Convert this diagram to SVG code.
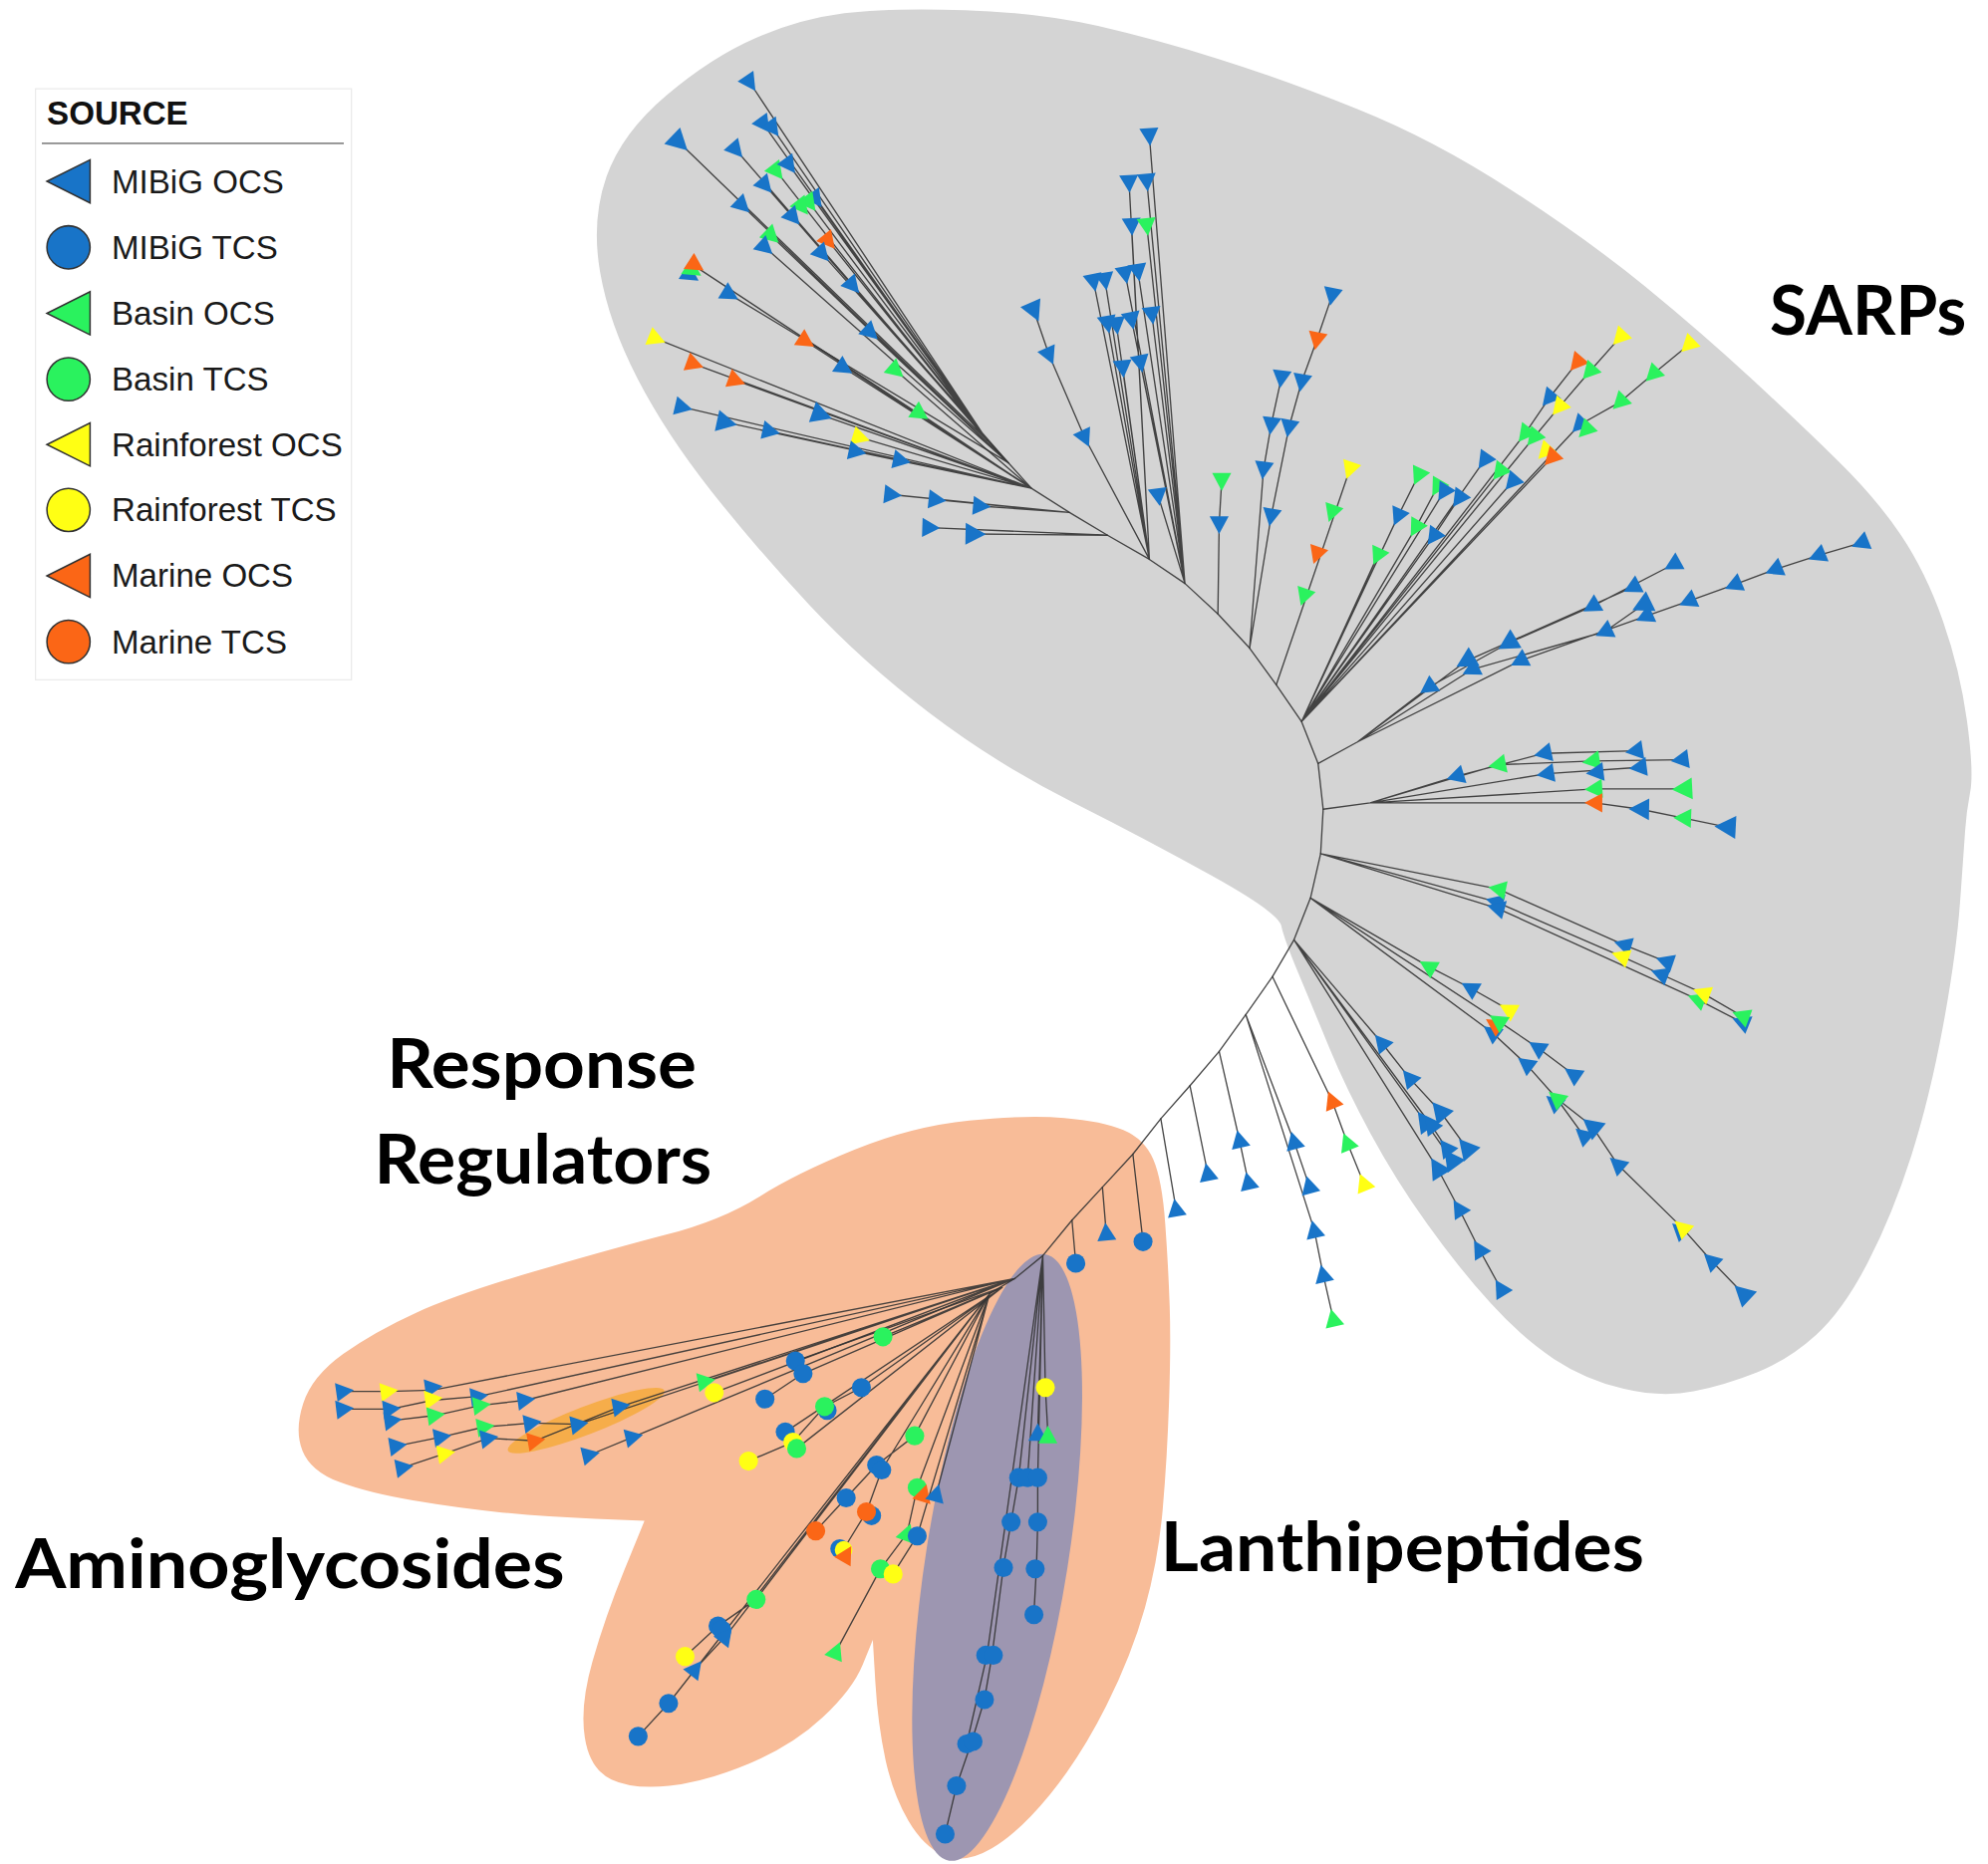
<svg xmlns="http://www.w3.org/2000/svg" xmlns:xlink="http://www.w3.org/1999/xlink" width="1995" height="1871" viewBox="0 0 1995 1871">
<style>
.b{fill:#1874c8}.g{fill:#2af25e}.y{fill:#ffff14}.o{fill:#fb6616}
.ln{fill:none;stroke:#333;stroke-width:1.05;stroke-linejoin:round;stroke-linecap:round;stroke-opacity:.9}
.ls{stroke:#333;stroke-width:1.2}
.lt{font-family:"Liberation Sans",Arial,sans-serif;font-size:26px;fill:#1a1a1a}
.lh{font-family:"Liberation Sans",Arial,sans-serif;font-size:26px;font-weight:700;fill:#111}
.big{font-family:Lato,"Open Sans",sans-serif;font-size:54px;font-weight:700;fill:#000}
</style>
<defs>
<path id="T" d="M-8,0L6,-7.5L6,7.5Z"/>
</defs>
<rect width="1995" height="1871" fill="#fff"/>
<g transform="scale(1.2731)">
<g id="region-sarps">
<path fill="#d4d4d4" d="M665.5,10.5 Q701,6 760.5,8 Q820,10 865.5,20.5 Q911,31 960.5,46.5 Q1010,62 1070,86 Q1130,110 1191.5,150 Q1253,190 1297,226 Q1341,262 1380.5,298.5 Q1420,335 1449.5,364 Q1479,393 1498.5,422 Q1518,451 1531.5,489.5 Q1545,528 1550.5,568.5 Q1556,609 1553,624.5 Q1550,640 1549,655 Q1548,670 1545,711.5 Q1542,753 1531.5,809.5 Q1521,866 1506.5,911.5 Q1492,957 1472.5,995 Q1453,1033 1431.5,1052.5 Q1410,1072 1385,1082 Q1360,1092 1335,1097 Q1310,1102 1280,1095 Q1250,1088 1225,1071.5 Q1200,1055 1175,1027.5 Q1150,1000 1125,965 Q1100,930 1080.5,894 Q1061,858 1048,826.5 Q1035,795 1023.5,767.5 Q1012,740 1010,730 Q1008,720 957,691.5 Q906,663 845.5,632.5 Q785,602 732.5,562 Q680,522 638,477 Q596,432 560.5,387 Q525,342 502.5,298.5 Q480,255 473,214.5 Q466,174 478,139.5 Q490,105 525.5,75 Q561,45 595.5,30 Q630,15 665.5,10.5 Z"/>
</g>
<g id="region-response-regulators">
<path fill="#f8bc98" d="M238.5,1144 Q232,1128 239,1106.5 Q246,1085 270.5,1067.5 Q295,1050 328,1035 Q361,1020 421,1002.5 Q481,985 525,973.5 Q569,962 598.5,943.5 Q628,925 673.5,906.5 Q719,888 764,883.5 Q809,879 839,881.5 Q869,884 885.5,891 Q902,898 909,914 Q916,930 918.5,965 Q921,1000 922,1030 Q923,1060 921.5,1105 Q920,1150 916.5,1190 Q913,1230 902.5,1267.5 Q892,1305 872,1345 Q852,1385 827.5,1415 Q803,1445 781.5,1457.5 Q760,1470 744,1463 Q728,1456 716,1435.5 Q704,1415 698,1387.5 Q692,1360 690,1326.5 Q688,1293 688,1293 L680,1312.5 Q672,1332 648.5,1354 Q625,1376 590.5,1390.5 Q556,1405 527.5,1408 Q499,1411 482,1403 Q465,1395 461,1370 Q457,1345 467,1310 Q477,1275 492.5,1237 Q508,1199 508,1199 L469,1197.5 Q430,1196 395.5,1192.5 Q361,1189 325.5,1183 Q290,1177 267.5,1168.5 Q245,1160 238.5,1144 Z"/>
</g>
<g id="region-lanthipeptides">
<ellipse cx="786" cy="1228" rx="56" ry="242" transform="rotate(9 786 1228)" fill="#9d96b1"/>
</g>
<g id="region-highlight">
<ellipse cx="462" cy="1120" rx="66" ry="11" transform="rotate(-21 462 1120)" fill="#f6ad4a"/>
</g>
<g id="connectors" class="ln">
<polyline points="778,347 795,365 813,385 843,404 873,422 906,441 934,460 960,484 985,511 1006,540 1026,569 1039,602 1043,638 1041,673 1033,708 1020,741 1003,770 982,800 961,829 938,856 915,882 893,910 869,936 845,962 822,990 800,1008 780,1020"/>
<path d="M591,65L778,347M602,98L778,347M609,101L778,347M535,112L778,347M580,118L778,347M612,135L778,347M622,130L778,347M603,146L778,347M638,160L778,347M643,157L778,347M585,162L795,365M608,186L795,365M603,195L795,365M653,190L778,347M625,171L778,347M648,200L795,365M672,225L795,365M575,232L795,365M686,262L795,365"/>
<path d="M548,210L813,385M517,267L813,385M547,287L813,385M580,300L813,385M635,269L813,385M665,290L813,385M706,292L813,385M725,326L813,385M538,321L813,385M572,333L813,385M607,340L813,385M647,327L813,385M678,345L813,385M675,356L813,385M710,363L813,385M703,390L843,404M738,394L843,404M773,399L843,404M733,416L873,422M768,421L873,422"/>
<path d="M815,245L827,280L855,345L906,441M890,144L906,441M892,178L906,441M862,222L906,441M871,221L906,441M873,255L906,441M880,256L906,441M885,290L906,441M906,107L934,460M904,143L934,460M904,178L934,460M887,216L934,460M897,214L934,460M892,252L934,460M908,248L934,460M899,286L934,460M913,391L934,460"/>
<path d="M960,484L961,413L963,379M985,511L996,370L1002,335L1010,298M985,511L1002,407L1016,337L1026,301L1038,268L1050,233M1006,540L1064,370"/>
<path d="M1026,569L1086,438M1026,569L1102,407L1118,375M1026,569L1116,416L1133,384M1026,569L1130,423L1150,393M1026,569L1138,388M1026,569L1170,363M1026,569L1182,372M1026,569L1192,380M1026,569L1202,342L1221,314L1243,286M1026,569L1209,345L1229,321L1253,293L1277,266M1026,569L1223,361M1026,569L1245,335L1277,317L1303,295L1331,272"/>
<path d="M1039,602L1070,585L1126,542L1189,507L1255,478L1319,445M1070,585L1156,521L1287,463M1070,585L1198,521L1297,486L1331,474L1367,461L1399,449L1433,438L1467,428M1070,585L1160,528L1265,498L1295,477"/>
<path d="M1043,638L1080,633L1148,612L1217,594L1289,592M1080,633L1181,603L1255,600L1325,599M1080,633L1219,610L1292,605M1080,633L1257,622L1327,622M1080,633L1257,633L1293,638L1327,645L1361,652"/>
<path d="M1041,673L1181,701L1280,745L1313,758M1041,673L1179,711L1278,754L1309,768L1342,783L1373,801M1041,673L1180,716L1338,788L1373,806"/>
<path d="M1033,708L1126,762L1159,779L1189,796M1033,708L1181,805L1212,826L1240,847M1033,708L1176,814L1203,839L1227,866L1255,888L1275,918L1326,968L1349,994L1374,1020M1227,866L1248,895"/>
<path d="M1020,741L1089,822L1111,850L1135,876L1156,905M1020,741L1123,884L1144,914M1020,741L1128,887L1140,905M1020,741L1133,921L1150,953L1166,985L1183,1016"/>
<path d="M1003,770L1050,868L1062,901L1075,933M982,800L1020,900L1032,935M982,800L1036,970L1043,1005L1051,1040M961,829L977,899L984,932M938,856L952,925M915,882L927,953M893,910L901,979M869,936L872,972M845,962L848,996"/>
<path d="M822,990L824,1094L826,1130M822,990L818,1130M822,990L818,1165L818,1200L817,1236L815,1272M822,990L810,1165M822,990L803,1165L797,1200L791,1235L782,1305L776,1340L766,1373L754,1408L745,1446M822,990L778,1305L762,1375"/>
<path d="M800,1008L341,1096L306,1097L271,1097M800,1008L377,1101L341,1104L308,1111L271,1111M800,1008L414,1104L379,1108L343,1116L309,1120M800,1008L456,1123L419,1122L382,1125L348,1133L313,1140M800,1008L499,1133L465,1147M800,1008L489,1109L422,1136L385,1134L351,1146L318,1157M800,1008L556,1089M800,1008L563,1098"/>
<path d="M790,1015L627,1073M790,1015L633,1083L603,1103M790,1015L696,1054M790,1015L679,1094L650,1109L625,1137L590,1152M790,1015L619,1129M790,1015L628,1142"/>
<path d="M780,1020L721,1132L691,1155L667,1181L643,1207M780,1020L695,1159L683,1192L664,1223M780,1020L738,1178M780,1020L723,1173L715,1209L694,1237L659,1302M780,1020L723,1211L704,1241M780,1020L596,1261L566,1282L540,1306M780,1020L572,1290L548,1316M780,1020L527,1343L503,1369"/>
</g>
<g id="leaves-sarps">
<use href="#T" class="b" transform="translate(591,65) rotate(-124)"/>
<use href="#T" class="b" transform="translate(602,98) rotate(-126)"/>
<use href="#T" class="b" transform="translate(609,101) rotate(-126)"/>
<use href="#T" class="b" transform="translate(535,112) rotate(-136) scale(1.2)"/>
<use href="#T" class="b" transform="translate(580,118) rotate(-131)"/>
<use href="#T" class="g" transform="translate(612,135) rotate(-128)"/>
<use href="#T" class="b" transform="translate(622,130) rotate(-126)"/>
<use href="#T" class="b" transform="translate(603,146) rotate(-131)"/>
<use href="#T" class="b" transform="translate(643,157) rotate(-126)"/>
<use href="#T" class="g" transform="translate(638,160) rotate(-127)"/>
<use href="#T" class="g" transform="translate(632,163) rotate(-128)"/>
<use href="#T" class="b" transform="translate(585,162) rotate(-136)"/>
<use href="#T" class="g" transform="translate(608,186) rotate(-136)"/>
<use href="#T" class="b" transform="translate(603,195) rotate(-138)"/>
<use href="#T" class="o" transform="translate(653,190) rotate(-129)"/>
<use href="#T" class="b" transform="translate(625,171) rotate(-131)"/>
<use href="#T" class="b" transform="translate(648,200) rotate(-132)"/>
<use href="#T" class="b" transform="translate(672,225) rotate(-131)"/>
<use href="#T" class="b" transform="translate(575,232) rotate(-149)"/>
<use href="#T" class="b" transform="translate(686,262) rotate(-137)"/>
<use href="#T" class="b" transform="translate(544,217) rotate(-147)"/>
<use href="#T" class="g" transform="translate(546,213) rotate(-147)"/>
<use href="#T" class="o" transform="translate(548,209) rotate(-147)"/>
<use href="#T" class="y" transform="translate(517,267) rotate(-158)"/>
<use href="#T" class="o" transform="translate(547,287) rotate(-160)"/>
<use href="#T" class="o" transform="translate(580,300) rotate(-160)"/>
<use href="#T" class="o" transform="translate(635,269) rotate(-147)"/>
<use href="#T" class="b" transform="translate(665,290) rotate(-147)"/>
<use href="#T" class="g" transform="translate(706,292) rotate(-139)"/>
<use href="#T" class="g" transform="translate(725,326) rotate(-146)"/>
<use href="#T" class="b" transform="translate(538,321) rotate(-167)"/>
<use href="#T" class="b" transform="translate(572,333) rotate(-168) scale(1.15)"/>
<use href="#T" class="b" transform="translate(607,340) rotate(-168)"/>
<use href="#T" class="b" transform="translate(647,327) rotate(-161) scale(1.15)"/>
<use href="#T" class="y" transform="translate(678,345) rotate(-163)"/>
<use href="#T" class="b" transform="translate(675,356) rotate(-168)"/>
<use href="#T" class="b" transform="translate(710,363) rotate(-168)"/>
<use href="#T" class="b" transform="translate(703,390) rotate(-174)"/>
<use href="#T" class="b" transform="translate(738,394) rotate(-174)"/>
<use href="#T" class="b" transform="translate(773,399) rotate(-175)"/>
<use href="#T" class="b" transform="translate(733,416) rotate(-178)"/>
<use href="#T" class="b" transform="translate(768,421) rotate(-179) scale(1.15)"/>
<use href="#T" class="b" transform="translate(815,245) rotate(-114) scale(1.15)"/>
<use href="#T" class="b" transform="translate(827,280) rotate(-114)"/>
<use href="#T" class="b" transform="translate(855,345) rotate(-115)"/>
<use href="#T" class="b" transform="translate(906,107) rotate(-94)"/>
<use href="#T" class="b" transform="translate(890,144) rotate(-93)"/>
<use href="#T" class="b" transform="translate(904,143) rotate(-95)"/>
<use href="#T" class="b" transform="translate(892,178) rotate(-93)"/>
<use href="#T" class="g" transform="translate(904,178) rotate(-96)"/>
<use href="#T" class="b" transform="translate(862,222) rotate(-101)"/>
<use href="#T" class="b" transform="translate(871,221) rotate(-99)"/>
<use href="#T" class="b" transform="translate(887,216) rotate(-100)"/>
<use href="#T" class="b" transform="translate(897,214) rotate(-99)"/>
<use href="#T" class="b" transform="translate(873,255) rotate(-100)"/>
<use href="#T" class="b" transform="translate(880,256) rotate(-97)"/>
<use href="#T" class="b" transform="translate(892,252) rotate(-101)"/>
<use href="#T" class="b" transform="translate(908,248) rotate(-97)"/>
<use href="#T" class="b" transform="translate(885,290) rotate(-95)"/>
<use href="#T" class="b" transform="translate(899,286) rotate(-101)"/>
<use href="#T" class="b" transform="translate(913,391) rotate(-98)"/>
<use href="#T" class="g" transform="translate(963,379) rotate(-90)"/>
<use href="#T" class="b" transform="translate(961,413) rotate(-90)"/>
<use href="#T" class="b" transform="translate(996,370) rotate(-83)"/>
<use href="#T" class="b" transform="translate(1002,335) rotate(-83)"/>
<use href="#T" class="b" transform="translate(1010,298) rotate(-83)"/>
<use href="#T" class="b" transform="translate(1002,407) rotate(-80)"/>
<use href="#T" class="b" transform="translate(1016,337) rotate(-80)"/>
<use href="#T" class="b" transform="translate(1026,301) rotate(-80)"/>
<use href="#T" class="o" transform="translate(1038,268) rotate(-79)"/>
<use href="#T" class="b" transform="translate(1050,233) rotate(-79)"/>
<use href="#T" class="g" transform="translate(1028,470) rotate(-71)"/>
<use href="#T" class="o" transform="translate(1038,437) rotate(-71)"/>
<use href="#T" class="g" transform="translate(1050,404) rotate(-71)"/>
<use href="#T" class="y" transform="translate(1064,370) rotate(-71)"/>
<use href="#T" class="g" transform="translate(1086,438) rotate(-65)"/>
<use href="#T" class="b" transform="translate(1102,407) rotate(-66)"/>
<use href="#T" class="g" transform="translate(1118,375) rotate(-65)"/>
<use href="#T" class="g" transform="translate(1116,416) rotate(-60)"/>
<use href="#T" class="g" transform="translate(1133,384) rotate(-60)"/>
<use href="#T" class="b" transform="translate(1130,423) rotate(-55)"/>
<use href="#T" class="b" transform="translate(1150,393) rotate(-55)"/>
<use href="#T" class="b" transform="translate(1138,388) rotate(-58)"/>
<use href="#T" class="b" transform="translate(1170,363) rotate(-55)"/>
<use href="#T" class="g" transform="translate(1182,372) rotate(-52)"/>
<use href="#T" class="b" transform="translate(1192,380) rotate(-49)"/>
<use href="#T" class="g" transform="translate(1202,342) rotate(-52)"/>
<use href="#T" class="b" transform="translate(1221,314) rotate(-50)"/>
<use href="#T" class="o" transform="translate(1243,286) rotate(-50)"/>
<use href="#T" class="g" transform="translate(1209,345) rotate(-51)"/>
<use href="#T" class="y" transform="translate(1229,321) rotate(-50)"/>
<use href="#T" class="g" transform="translate(1253,293) rotate(-48)"/>
<use href="#T" class="y" transform="translate(1277,266) rotate(-47)"/>
<use href="#T" class="y" transform="translate(1218,356) rotate(-47)"/>
<use href="#T" class="o" transform="translate(1223,361) rotate(-47)"/>
<use href="#T" class="b" transform="translate(1245,335) rotate(-46)"/>
<use href="#T" class="g" transform="translate(1250,339) rotate(-46)"/>
<use href="#T" class="g" transform="translate(1277,317) rotate(-45)"/>
<use href="#T" class="g" transform="translate(1303,295) rotate(-45)"/>
<use href="#T" class="y" transform="translate(1331,272) rotate(-44)"/>
<use href="#T" class="b" transform="translate(1126,542) rotate(-35)"/>
<use href="#T" class="b" transform="translate(1189,507) rotate(-31) scale(1.15)"/>
<use href="#T" class="b" transform="translate(1255,478) rotate(-30)"/>
<use href="#T" class="b" transform="translate(1319,445) rotate(-29)"/>
<use href="#T" class="b" transform="translate(1156,521) rotate(-30) scale(1.15)"/>
<use href="#T" class="b" transform="translate(1287,463) rotate(-27)"/>
<use href="#T" class="b" transform="translate(1198,521) rotate(-27)"/>
<use href="#T" class="b" transform="translate(1297,486) rotate(-25)"/>
<use href="#T" class="b" transform="translate(1331,474) rotate(-24)"/>
<use href="#T" class="b" transform="translate(1367,461) rotate(-23)"/>
<use href="#T" class="b" transform="translate(1399,449) rotate(-23)"/>
<use href="#T" class="b" transform="translate(1433,438) rotate(-22)"/>
<use href="#T" class="b" transform="translate(1467,428) rotate(-22)"/>
<use href="#T" class="b" transform="translate(1160,528) rotate(-27)"/>
<use href="#T" class="b" transform="translate(1265,498) rotate(-25)"/>
<use href="#T" class="b" transform="translate(1295,477) rotate(-26) scale(1.15)"/>
<use href="#T" class="b" transform="translate(1148,612) rotate(-17)"/>
<use href="#T" class="g" transform="translate(1181,603) rotate(-11)"/>
<use href="#T" class="b" transform="translate(1217,594) rotate(-12)"/>
<use href="#T" class="b" transform="translate(1289,592) rotate(-9)"/>
<use href="#T" class="g" transform="translate(1255,600) rotate(-9)"/>
<use href="#T" class="b" transform="translate(1325,599) rotate(-8)"/>
<use href="#T" class="b" transform="translate(1219,610) rotate(-9)"/>
<use href="#T" class="b" transform="translate(1258,609) rotate(-7)"/>
<use href="#T" class="b" transform="translate(1292,605) rotate(-7)"/>
<use href="#T" class="g" transform="translate(1257,622) rotate(-4)"/>
<use href="#T" class="g" transform="translate(1327,622) rotate(-3) scale(1.15)"/>
<use href="#T" class="o" transform="translate(1257,633) rotate(0)"/>
<use href="#T" class="b" transform="translate(1293,638) rotate(1) scale(1.15)"/>
<use href="#T" class="g" transform="translate(1327,645) rotate(2)"/>
<use href="#T" class="b" transform="translate(1361,652) rotate(3) scale(1.2)"/>
<use href="#T" class="b" transform="translate(1179,711) rotate(15)"/>
<use href="#T" class="b" transform="translate(1180,716) rotate(15)"/>
<use href="#T" class="g" transform="translate(1181,701) rotate(11)"/>
<use href="#T" class="b" transform="translate(1280,745) rotate(17)"/>
<use href="#T" class="b" transform="translate(1313,758) rotate(19)"/>
<use href="#T" class="y" transform="translate(1278,754) rotate(19)"/>
<use href="#T" class="b" transform="translate(1309,768) rotate(20)"/>
<use href="#T" class="g" transform="translate(1338,788) rotate(21)"/>
<use href="#T" class="y" transform="translate(1342,783) rotate(21)"/>
<use href="#T" class="b" transform="translate(1373,806) rotate(22)"/>
<use href="#T" class="g" transform="translate(1373,801) rotate(21)"/>
<use href="#T" class="g" transform="translate(1126,762) rotate(30)"/>
<use href="#T" class="b" transform="translate(1159,779) rotate(30)"/>
<use href="#T" class="y" transform="translate(1189,796) rotate(29)"/>
<use href="#T" class="b" transform="translate(1176,814) rotate(36)"/>
<use href="#T" class="o" transform="translate(1178,808) rotate(33)"/>
<use href="#T" class="g" transform="translate(1181,805) rotate(33)"/>
<use href="#T" class="b" transform="translate(1212,826) rotate(33)"/>
<use href="#T" class="b" transform="translate(1240,847) rotate(34)"/>
<use href="#T" class="b" transform="translate(1203,839) rotate(37)"/>
<use href="#T" class="b" transform="translate(1225,869) rotate(39)"/>
<use href="#T" class="g" transform="translate(1227,866) rotate(39)"/>
<use href="#T" class="b" transform="translate(1255,888) rotate(39) scale(1.15)"/>
<use href="#T" class="b" transform="translate(1248,895) rotate(41)"/>
<use href="#T" class="b" transform="translate(1275,918) rotate(41)"/>
<use href="#T" class="b" transform="translate(1324,970) rotate(42)"/>
<use href="#T" class="y" transform="translate(1326,968) rotate(42)"/>
<use href="#T" class="b" transform="translate(1349,994) rotate(43)"/>
<use href="#T" class="b" transform="translate(1374,1020) rotate(43) scale(1.15)"/>
<use href="#T" class="b" transform="translate(1089,822) rotate(50)"/>
<use href="#T" class="b" transform="translate(1111,850) rotate(50)"/>
<use href="#T" class="b" transform="translate(1135,876) rotate(50) scale(1.15)"/>
<use href="#T" class="b" transform="translate(1156,905) rotate(50) scale(1.15)"/>
<use href="#T" class="b" transform="translate(1123,884) rotate(54) scale(1.15)"/>
<use href="#T" class="b" transform="translate(1128,887) rotate(54)"/>
<use href="#T" class="b" transform="translate(1140,905) rotate(53)"/>
<use href="#T" class="b" transform="translate(1144,914) rotate(54) scale(1.15)"/>
<use href="#T" class="b" transform="translate(1133,921) rotate(58) scale(1.15)"/>
<use href="#T" class="b" transform="translate(1150,953) rotate(58)"/>
<use href="#T" class="b" transform="translate(1166,985) rotate(59)"/>
<use href="#T" class="b" transform="translate(1183,1016) rotate(59)"/>
</g>
<g id="leaves-stem">
<use href="#T" class="o" transform="translate(1050,868) rotate(68)"/>
<use href="#T" class="g" transform="translate(1062,901) rotate(68)"/>
<use href="#T" class="y" transform="translate(1075,933) rotate(68)"/>
<use href="#T" class="b" transform="translate(1020,900) rotate(75)"/>
<use href="#T" class="b" transform="translate(1032,935) rotate(75)"/>
<use href="#T" class="b" transform="translate(1036,970) rotate(77)"/>
<use href="#T" class="b" transform="translate(1043,1005) rotate(77)"/>
<use href="#T" class="g" transform="translate(1051,1040) rotate(77)"/>
<use href="#T" class="b" transform="translate(977,899) rotate(77)"/>
<use href="#T" class="b" transform="translate(984,932) rotate(77)"/>
<use href="#T" class="b" transform="translate(952,925) rotate(79)"/>
<use href="#T" class="b" transform="translate(927,953) rotate(80)"/>
<circle class="b" cx="901" cy="979" r="7.5"/>
<use href="#T" class="b" transform="translate(872,972) rotate(85)"/>
<circle class="b" cx="848" cy="996" r="7.5"/>
</g>
<g id="leaves-lanthipeptides">
<circle class="y" cx="824" cy="1094" r="7.5"/>
<use href="#T" class="b" transform="translate(818,1130) rotate(90)"/>
<use href="#T" class="g" transform="translate(826,1132) rotate(90)"/>
<circle class="b" cx="803" cy="1165" r="7.5"/>
<circle class="b" cx="810" cy="1165" r="7.5"/>
<circle class="b" cx="818" cy="1165" r="7.5"/>
<circle class="b" cx="797" cy="1200" r="7.5"/>
<circle class="b" cx="818" cy="1200" r="7.5"/>
<circle class="b" cx="791" cy="1236" r="7.5"/>
<circle class="b" cx="816" cy="1237" r="7.5"/>
<circle class="b" cx="815" cy="1273" r="7.5"/>
<circle class="b" cx="777" cy="1305" r="7.5"/>
<circle class="b" cx="783" cy="1305" r="7.5"/>
<circle class="b" cx="776" cy="1340" r="7.5"/>
<circle class="b" cx="762" cy="1375" r="7.5"/>
<circle class="b" cx="767" cy="1373" r="7.5"/>
<circle class="b" cx="754" cy="1408" r="7.5"/>
<circle class="b" cx="745" cy="1446" r="7.5"/>
</g>
<g id="leaves-response-regulators">
<use href="#T" class="b" transform="translate(271,1097) rotate(172)"/>
<use href="#T" class="b" transform="translate(271,1111) rotate(173)"/>
<use href="#T" class="y" transform="translate(306,1097) rotate(172)"/>
<use href="#T" class="b" transform="translate(308,1111) rotate(173)"/>
<use href="#T" class="b" transform="translate(309,1120) rotate(172)"/>
<use href="#T" class="b" transform="translate(313,1140) rotate(171)"/>
<use href="#T" class="b" transform="translate(318,1157) rotate(170)"/>
<use href="#T" class="b" transform="translate(341,1094) rotate(172)"/>
<use href="#T" class="y" transform="translate(341,1103) rotate(173)"/>
<use href="#T" class="g" transform="translate(343,1116) rotate(172)"/>
<use href="#T" class="b" transform="translate(348,1133) rotate(171)"/>
<use href="#T" class="y" transform="translate(351,1146) rotate(170)"/>
<use href="#T" class="b" transform="translate(377,1101) rotate(172)"/>
<use href="#T" class="g" transform="translate(379,1108) rotate(172)"/>
<use href="#T" class="g" transform="translate(382,1125) rotate(171)"/>
<use href="#T" class="b" transform="translate(385,1134) rotate(170)"/>
<use href="#T" class="b" transform="translate(414,1104) rotate(172)"/>
<use href="#T" class="b" transform="translate(419,1122) rotate(171)"/>
<use href="#T" class="o" transform="translate(422,1136) rotate(170)"/>
<use href="#T" class="b" transform="translate(456,1123) rotate(170)"/>
<use href="#T" class="b" transform="translate(465,1147) rotate(167)"/>
<use href="#T" class="b" transform="translate(489,1109) rotate(170)"/>
<use href="#T" class="b" transform="translate(499,1133) rotate(167)"/>
<use href="#T" class="g" transform="translate(556,1089) rotate(170)"/>
<circle class="y" cx="563" cy="1098" r="7.5"/>
<circle class="b" cx="603" cy="1103" r="7.5"/>
<circle class="b" cx="627" cy="1073" r="7.5"/>
<circle class="b" cx="633" cy="1083" r="7.5"/>
<circle class="b" cx="679" cy="1094" r="7.5"/>
<circle class="g" cx="696" cy="1054" r="7.5"/>
<circle class="b" cx="652" cy="1112" r="7.5"/>
<circle class="g" cx="650" cy="1109" r="7.5"/>
<circle class="b" cx="619" cy="1129" r="7.5"/>
<circle class="y" cx="625" cy="1137" r="7.5"/>
<circle class="g" cx="628" cy="1142" r="7.5"/>
<circle class="y" cx="590" cy="1152" r="7.5"/>
</g>
<g id="leaves-aminoglycosides">
<circle class="g" cx="721" cy="1132" r="7.5"/>
<circle class="b" cx="691" cy="1155" r="7.5"/>
<circle class="b" cx="695" cy="1159" r="7.5"/>
<circle class="b" cx="667" cy="1181" r="7.5"/>
<circle class="b" cx="687" cy="1195" r="7.5"/>
<circle class="o" cx="683" cy="1192" r="7.5"/>
<circle class="o" cx="643" cy="1207" r="7.5"/>
<circle class="b" cx="662" cy="1221" r="7.5"/>
<circle class="y" cx="665" cy="1222" r="7"/>
<use href="#T" class="o" transform="translate(667,1226) rotate(120)"/>
<circle class="g" cx="723" cy="1173" r="7.5"/>
<use href="#T" class="o" transform="translate(728,1178) rotate(107)"/>
<use href="#T" class="b" transform="translate(738,1178) rotate(105)"/>
<use href="#T" class="g" transform="translate(715,1209) rotate(110)"/>
<circle class="b" cx="723" cy="1211" r="7.5"/>
<circle class="g" cx="694" cy="1237" r="7.5"/>
<circle class="y" cx="704" cy="1241" r="7.5"/>
<use href="#T" class="g" transform="translate(659,1302) rotate(113)"/>
<circle class="g" cx="596" cy="1261" r="7.5"/>
<circle class="b" cx="566" cy="1282" r="7.5"/>
<circle class="b" cx="569" cy="1285" r="7.5"/>
<use href="#T" class="b" transform="translate(572,1290) rotate(128)"/>
<circle class="y" cx="540" cy="1306" r="7.5"/>
<use href="#T" class="b" transform="translate(548,1316) rotate(128)"/>
<circle class="b" cx="527" cy="1343" r="7.5"/>
<circle class="b" cx="503" cy="1369" r="7.5"/>
</g>
<g id="legend">
<rect x="28" y="70" width="249" height="466" fill="#fff" stroke="#ebebeb" stroke-width="1"/>
<text class="lh" x="37" y="98.5">SOURCE</text>
<line x1="33" y1="113" x2="271" y2="113" stroke="#8a8a8a" stroke-width="1.5"/>
<g id="legend-mibig-ocs"><path class="b ls" d="M37,143L71,126L71,160Z"/><text class="lt" x="88" y="152">MIBiG OCS</text></g>
<g id="legend-mibig-tcs"><circle class="b ls" cx="54" cy="195" r="17"/><text class="lt" x="88" y="204">MIBiG TCS</text></g>
<g id="legend-basin-ocs"><path class="g ls" d="M37,247L71,230L71,264Z"/><text class="lt" x="88" y="256">Basin OCS</text></g>
<g id="legend-basin-tcs"><circle class="g ls" cx="54" cy="299" r="17"/><text class="lt" x="88" y="308">Basin TCS</text></g>
<g id="legend-rainforest-ocs"><path class="y ls" d="M37,350.5L71,333.5L71,367.5Z"/><text class="lt" x="88" y="359.5">Rainforest OCS</text></g>
<g id="legend-rainforest-tcs"><circle class="y ls" cx="54" cy="402" r="17"/><text class="lt" x="88" y="411">Rainforest TCS</text></g>
<g id="legend-marine-ocs"><path class="o ls" d="M37,454L71,437L71,471Z"/><text class="lt" x="88" y="463">Marine OCS</text></g>
<g id="legend-marine-tcs"><circle class="o ls" cx="54" cy="506" r="17"/><text class="lt" x="88" y="515">Marine TCS</text></g>
</g>
<g id="labels">
<text class="big" x="1395" y="264" textLength="155" lengthAdjust="spacingAndGlyphs">SARPs</text>
<text class="big" x="305" y="858" textLength="244" lengthAdjust="spacingAndGlyphs">Response</text>
<text class="big" x="295" y="933" textLength="266" lengthAdjust="spacingAndGlyphs">Regulators</text>
<text class="big" x="12" y="1252" textLength="433" lengthAdjust="spacingAndGlyphs">Aminoglycosides</text>
<text class="big" x="915" y="1239" textLength="381" lengthAdjust="spacingAndGlyphs">Lanthipeptides</text>
</g>
</g>
</svg>
